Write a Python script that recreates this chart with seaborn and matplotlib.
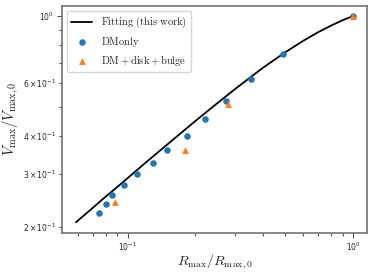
import matplotlib
matplotlib.use("Agg")
import matplotlib.pyplot as plt
import seaborn as sns
import pandas as pd

# fitting curve
fit_r = [0.059, 0.07, 0.08, 0.09, 0.1, 0.12, 0.15, 0.2, 0.25, 0.3, 0.35, 0.4, 0.5, 0.6, 0.7, 0.8, 0.9, 1.0]
fit_v = [0.207, 0.231, 0.252, 0.271, 0.290, 0.326, 0.375, 0.449, 0.514, 0.573, 0.626, 0.675, 0.758, 0.827, 0.884, 0.930, 0.969, 1.0]

# DM only
dm_r = [0.0748, 0.0802, 0.0850, 0.0966, 0.1103, 0.129, 0.150, 0.1843, 0.2198, 0.274, 0.3537, 0.488, 1.0]
dm_v = [0.2214, 0.2381, 0.2550, 0.2752, 0.2985, 0.3258, 0.3589, 0.4007, 0.456, 0.524, 0.6195, 0.749, 1.0]

# DM + disk + bulge
db_r = [0.0879, 0.1793, 0.2786, 1.0]
db_v = [0.2417, 0.3594, 0.5123, 1.0]

sns.set_style("ticks")
plt.rcParams["mathtext.fontset"] = "cm"

fig = plt.figure(figsize=(3.74, 2.73), dpi=100)
ax = fig.add_axes([0.166, 0.148, 0.815, 0.831])

fit_df = pd.DataFrame({"r": fit_r, "v": fit_v})
sns.lineplot(data=fit_df, x="r", y="v", color="black", linewidth=1.3, ax=ax,
             label=r"$\mathrm{Fitting\ (this\ work)}$", sort=False)
sns.scatterplot(x=dm_r, y=dm_v, color="#1f77b4", marker="o", s=22, linewidth=0,
                ax=ax, label=r"$\mathrm{DM only}$", zorder=3)
sns.scatterplot(x=db_r, y=db_v, color="#ff7f0e", marker="^", s=24, linewidth=0,
                ax=ax, label=r"$\mathrm{DM} + \mathrm{disk} + \mathrm{bulge}$", zorder=3)

ax.set_xscale("log")
ax.set_yscale("log")
ax.margins(0.05)

ax.set_xlabel(r"$R_{\rm max}/R_{\rm max,0}$", fontsize=10, labelpad=-1)
ax.set_ylabel(r"$V_{\rm max}/V_{\rm max,0}$", fontsize=10.5, labelpad=1)
ax.tick_params(which="both", labelsize=5.5, color="0.3", width=0.8, pad=2.5)
ax.tick_params(which="major", length=3.5)
ax.tick_params(which="minor", length=2)
for sp in ax.spines.values():
    sp.set_color("0.45")
    sp.set_linewidth(1.2)
    sp.set_visible(True)

leg = ax.legend(loc="upper left", fontsize=7.5, frameon=True, handlelength=2.0,
                borderpad=0.4, labelspacing=0.45, handletextpad=0.8)
leg.get_frame().set_edgecolor("0.8")

fig.savefig("out.png", dpi=100)
